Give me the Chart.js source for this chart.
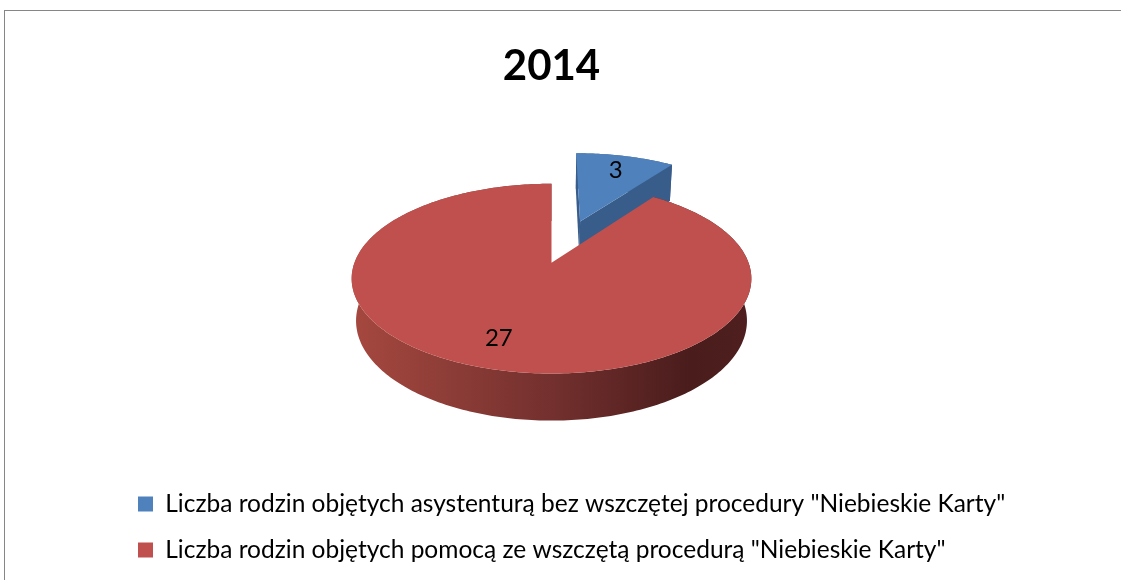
<!DOCTYPE html>
<html>
<head>
<meta charset="utf-8">
<script src="https://cdn.jsdelivr.net/npm/chart.js@4/dist/chart.umd.min.js"></script>
<style>
html,body{margin:0;padding:0;background:#fff;overflow:hidden}
canvas{display:block}
</style>
</head>
<body>
<canvas id="c" width="1121" height="580"></canvas>
<script>
// ---- data ----
const chartTitle = '2014';
const categories = [
  'Liczba rodzin objętych asystenturą bez wszczętej procedury "Niebieskie Karty"',
  'Liczba rodzin objętych pomocą ze wszczętą procedurą "Niebieskie Karty"'
];
const values = [3, 27];

// ---- styles ----
const topColors = ['#4F81BD', '#C0504D'];
const cutColors = ['#385D8A', '#8C3836'];
const wallStops = [
  [[0, '#5A86BC'], [1, '#2E4B70']],
  [[0, '#A5483F'], [0.5, '#73302E'], [0.85, '#4A1C1C'], [1, '#4F1F1F']]
];
const explode = [100, 0];
const FONT = 'Lato, "Open Sans", sans-serif';

// 3D projection settings
const TILT = 27.9 * Math.PI / 180;
const DIST = 5.25;
const DEPTH = 0.245;
const LABEL_R = 0.76;

const pie3d = {
  id: 'pie3d',
  afterLayout(chart) {
    // let the legend rows run to the canvas edge instead of being clipped
    const lg = chart.legend;
    if (lg) {
      lg.right = chart.width;
      lg.width = lg.right - lg.left;
    }
  },
  beforeDraw(chart) {
    const ctx = chart.ctx;
    ctx.save();
    ctx.fillStyle = '#fff';
    ctx.fillRect(0, 0, chart.width, chart.height);
    ctx.strokeStyle = '#868686';
    ctx.lineWidth = 1;
    ctx.strokeRect(4.5, 10.5, chart.width + 20, chart.height + 20);
    ctx.restore();
  },
  beforeDatasetsDraw(chart) {
    const ctx = chart.ctx;
    const meta = chart.getDatasetMeta(0);
    const s = Math.sin(TILT), c = Math.cos(TILT);
    const geo = meta.data.map((arc, i) => {
      const p = arc.getProps(['x', 'y', 'startAngle', 'endAngle', 'outerRadius'], true);
      const off = (arc.options.offset || 0) / p.outerRadius;
      const mid = (p.startAngle + p.endAngle) / 2;
      return {i, p, ox: off * Math.cos(mid), oy: -off * Math.sin(mid), mid};
    });
    const order = geo.slice().sort((a, b) => b.oy - a.oy || (-Math.sin(b.mid)) - (-Math.sin(a.mid)));
    ctx.save();
    for (const g of order) {
      const {p, ox, oy, i} = g;
      const R = p.outerRadius, cx = p.x, cy = p.y;
      const P = (X, Y, Z) => {
        const yc = Y * s + Z * c;
        const zc = DIST + Y * c - Z * s;
        return [cx + R * DIST * X / zc, cy - R * DIST * yc / zc];
      };
      const pt = (a, r, Z) => P(ox + r * Math.cos(a), oy - r * Math.sin(a), Z);
      const a0 = p.startAngle, a1 = p.endAngle;
      const N = Math.max(8, Math.ceil((a1 - a0) / (Math.PI / 180)));
      // outer wall
      ctx.beginPath();
      for (let k = 0; k <= N; k++) {
        const q = pt(a0 + (a1 - a0) * k / N, 1, 0);
        k ? ctx.lineTo(q[0], q[1]) : ctx.moveTo(q[0], q[1]);
      }
      for (let k = N; k >= 0; k--) {
        const q = pt(a0 + (a1 - a0) * k / N, 1, -DEPTH);
        ctx.lineTo(q[0], q[1]);
      }
      ctx.closePath();
      const grad = ctx.createLinearGradient(cx - R, 0, cx + R, 0);
      wallStops[i].forEach(st => grad.addColorStop(st[0], st[1]));
      ctx.fillStyle = grad;
      ctx.fill();
      // cut faces
      const ct = P(ox, oy, 0), cb = P(ox, oy, -DEPTH);
      [[a1, false], [a0, true]].forEach(([a, rev]) => {
        let quad = [ct, pt(a, 1, 0), pt(a, 1, -DEPTH), cb];
        if (rev) quad = quad.reverse();
        let area = 0;
        for (let k = 0; k < 4; k++) {
          const u = quad[k], v = quad[(k + 1) % 4];
          area += u[0] * v[1] - v[0] * u[1];
        }
        if (area > 1) {
          ctx.beginPath();
          quad.forEach((q, k) => k ? ctx.lineTo(q[0], q[1]) : ctx.moveTo(q[0], q[1]));
          ctx.closePath();
          ctx.fillStyle = cutColors[i];
          ctx.fill();
        }
      });
      // top face
      ctx.beginPath();
      ctx.moveTo(ct[0], ct[1]);
      for (let k = 0; k <= N; k++) {
        const q = pt(a0 + (a1 - a0) * k / N, 1, 0);
        ctx.lineTo(q[0], q[1]);
      }
      ctx.closePath();
      ctx.fillStyle = topColors[i];
      ctx.fill();
      g.label = pt((a0 + a1) / 2, LABEL_R, 0);
    }
    // data labels
    ctx.fillStyle = '#000';
    ctx.font = '24px ' + FONT;
    ctx.textAlign = 'center';
    ctx.textBaseline = 'middle';
    geo.forEach(g => {
      const v = chart.data.datasets[0].data[g.i];
      ctx.fillText(String(v), g.label[0], g.label[1]);
    });
    ctx.restore();
    return false;
  }
};

new Chart(document.getElementById('c'), {
  type: 'pie',
  data: {
    labels: categories,
    datasets: [{
      data: values,
      backgroundColor: topColors,
      borderWidth: 0,
      offset: explode,
      radius: 197
    }]
  },
  options: {
    responsive: false,
    animation: false,
    events: [],
    layout: {padding: {left: 116.5, right: 134.5, top: 0, bottom: 7.75}},
    plugins: {
      title: {
        display: true,
        text: chartTitle,
        color: '#000',
        font: {family: FONT, size: 42, weight: 'bold', lineHeight: 1},
        padding: {top: 45, bottom: -32}
      },
      legend: {
        display: true,
        position: 'bottom',
        align: 'start',
        labels: {
          color: '#000',
          font: {family: FONT, size: 24.5},
          boxWidth: 15,
          boxHeight: 15,
          padding: 21.5
        }
      },
      tooltip: {enabled: false}
    }
  },
  plugins: [pie3d]
});
</script>
</body>
</html>
